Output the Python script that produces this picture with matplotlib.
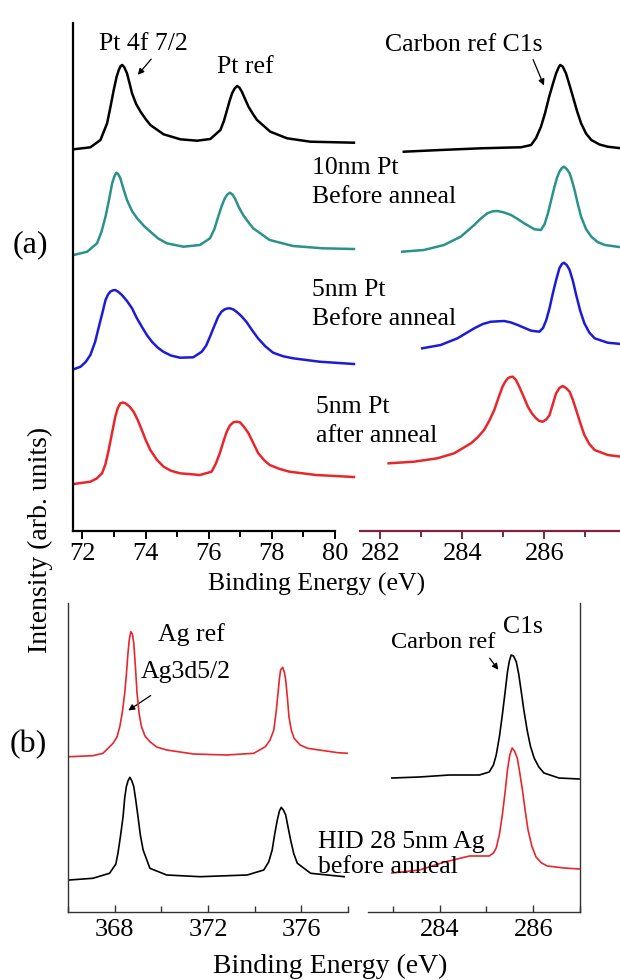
import numpy as np
import matplotlib
matplotlib.use('Agg')
from matplotlib import pyplot as plt
from matplotlib.ticker import MultipleLocator

plt.rcParams['font.family'] = ['Liberation Serif', 'DejaVu Serif']

# ---------- data: panel (a), Pt 4f region ----------
pt_black_x = [71.72, 72.25, 72.57, 72.78, 72.88, 72.99, 73.08, 73.15, 73.21, 73.26, 73.32, 73.41, 73.49, 73.57,
              73.70, 73.84, 74.00, 74.15, 74.57, 75.10, 75.63, 76.05, 76.37, 76.48, 76.58, 76.66, 76.74, 76.82,
              76.90, 76.97, 77.05, 77.15, 77.26, 77.40, 77.53, 77.95, 78.48, 79.22, 80.60]
pt_black_y = [1.7, 3.7, 11, 27.7, 43, 61, 74, 81, 85, 86, 84, 77.7, 68, 57.7,
              47, 39.3, 32, 26, 16.7, 11.7, 10.3, 12, 21, 30, 41, 50, 57.7, 62.5,
              65, 63.5, 59.3, 52, 44.3, 37, 31, 19.3, 12.7, 9.3, 8.3]

pt_teal_x = [71.72, 72.15, 72.46, 72.60, 72.73, 72.84, 72.94, 73.01, 73.07, 73.13, 73.20, 73.30, 73.41, 73.57,
             73.73, 73.95, 74.15, 74.40, 74.67, 75.20, 75.72, 76.04, 76.18, 76.30, 76.41, 76.51, 76.59, 76.67,
             76.75, 76.83, 76.95, 77.09, 77.25, 77.41, 77.93, 78.67, 79.61, 80.60]
pt_teal_y = [1, 4.3, 12.7, 24, 39.3, 56, 72.7, 79.5, 83.3, 82, 77.7, 67, 56, 45,
             37.7, 30, 24.3, 17.5, 12.7, 9.3, 11, 17.7, 27, 39.3, 50, 57.7, 61.5, 63.3,
             61.5, 57.7, 49, 41, 34, 27.7, 16, 10, 7.7, 7]

pt_blue_x = [71.72, 71.94, 72.10, 72.25, 72.40, 72.52, 72.63, 72.73, 72.81, 72.88, 72.96, 73.04, 73.14, 73.25,
             73.41, 73.57, 73.72, 73.88, 74.04, 74.20, 74.38, 74.56, 74.80, 75.09, 75.51, 75.78, 75.92, 76.04,
             76.17, 76.30, 76.41, 76.51, 76.59, 76.67, 76.78, 76.88, 77.03, 77.19, 77.37, 77.56, 77.80, 78.04,
             78.35, 78.67, 79.51, 80.60]
pt_blue_y = [1.7, 4.3, 9, 16, 29, 44.3, 58, 71, 76.5, 79.3, 80.6, 81, 79, 76,
             70, 62.7, 53, 44.3, 36, 29.3, 23.5, 19.3, 15.5, 13.3, 13.7, 19.3, 25.5, 34.3,
             44.5, 54.3, 59.5, 61.7, 62.5, 62.7, 61.5, 59.3, 55, 49.3, 41, 32.7, 24.5, 18.3,
             14.8, 12.7, 9.3, 7]

pt_red_x = [71.72, 72.25, 72.45, 72.62, 72.73, 72.83, 72.93, 73.04, 73.12, 73.20, 73.28, 73.36, 73.49, 73.62,
            73.75, 73.88, 74.01, 74.15, 74.35, 74.57, 74.80, 75.09, 75.72, 76.09, 76.22, 76.35, 76.46, 76.57,
            76.67, 76.78, 76.88, 76.99, 77.12, 77.26, 77.41, 77.57, 77.75, 77.93, 78.25, 78.56, 79.40, 80.60]
pt_red_y = [2, 4.3, 7.5, 12.7, 22, 36, 52, 69.3, 78, 82.7, 83.5, 82.7, 79.5, 74.3,
            66, 56, 45.5, 36, 26.5, 19.3, 15.3, 12.7, 11, 14.3, 22, 32.7, 44, 54.3,
            60.5, 63.7, 64.3, 63.7, 59, 52.7, 43, 32.7, 26, 21, 17, 14.3, 11, 9]

# ---------- data: panel (a), C 1s region ----------
c_black_x = [282.57, 283.47, 284.45, 285.20, 285.43, 285.68, 285.80, 285.92, 286.02, 286.12, 286.21, 286.29,
             286.35, 286.39, 286.45, 286.53, 286.61, 286.70, 286.80, 286.90, 287.02, 287.15, 287.35, 287.55, 287.88]
c_black_y = [-0.7, 1, 2.7, 3.5, 3.7, 6, 13, 24.3, 38, 54.3, 67, 77.7,
             83.5, 86, 84.5, 77.7, 67, 54.3, 40, 27.7, 17.5, 11, 6.5, 4.3, 2.7]

c_teal_x = [282.53, 283.06, 283.55, 283.96, 284.29, 284.45, 284.61, 284.74, 284.86, 285.02, 285.19, 285.35,
            285.51, 285.76, 285.92, 286.01, 286.09, 286.17, 286.25, 286.31, 286.37, 286.43, 286.48, 286.55,
            286.62, 286.68, 286.74, 286.82, 286.90, 287.02, 287.15, 287.30, 287.48, 287.88]
c_teal_y = [4.3, 6, 11, 19.3, 31, 37.5, 42.7, 44.7, 45, 43.5, 41, 37,
            32.7, 26.7, 26, 32, 42.7, 56, 69.3, 78, 84.3, 88, 89.3, 87,
            82.7, 75, 66, 52, 39.3, 27, 19.3, 14, 11, 8.7]

c_blue_x = [283.02, 283.47, 283.88, 284.29, 284.50, 284.70, 285.02, 285.19, 285.35, 285.68, 285.88, 285.97,
            286.05, 286.13, 286.21, 286.29, 286.37, 286.43, 286.48, 286.55, 286.62, 286.70, 286.78, 286.88,
            286.98, 287.10, 287.23, 287.55, 287.88]
c_blue_y = [22.7, 26, 32.7, 42.7, 47, 49.3, 50, 48.5, 46, 40.3, 39.3, 43,
            51, 63, 77.7, 91, 102.7, 107, 108.3, 106, 101, 90, 76, 60,
            47.7, 38.5, 32.7, 28.3, 27]

c_red_x = [282.20, 282.82, 283.39, 283.80, 284.21, 284.37, 284.53, 284.66, 284.78, 284.88, 284.98, 285.05,
           285.11, 285.17, 285.23, 285.31, 285.39, 285.50, 285.60, 285.70, 285.80, 285.88, 285.96, 286.05,
           286.13, 286.21, 286.29, 286.37, 286.45, 286.53, 286.62, 286.70, 286.78, 286.88, 286.98, 287.10,
           287.23, 287.55, 287.88]
c_red_y = [22.7, 24.3, 27.7, 32.7, 42.7, 48.5, 56, 65.5, 76, 88, 99.3, 104.5,
           107.7, 109, 109.3, 106, 99.3, 89, 79.3, 72.5, 67.7, 65, 64.3, 66.5,
           71, 82, 92.7, 98, 100, 98, 94.3, 86, 76, 63, 51, 42,
           36, 31, 29.3]

# ---------- data: panel (b), Ag 3d region ----------
ag_red_x = [366.06, 367.06, 367.50, 367.93, 368.10, 368.22, 368.33, 368.43, 368.50, 368.57, 368.63, 368.69,
            368.76, 368.82, 368.89, 368.96, 369.05, 369.15, 369.30, 369.51, 369.80, 370.23, 371.38, 372.81,
            373.96, 374.46, 374.66, 374.82, 374.92, 375.00, 375.06, 375.11, 375.20, 375.27, 375.33, 375.40,
            375.47, 375.57, 375.69, 375.95, 376.27, 377.56, 378.00]
ag_red_y = [0.3, 1.3, 3.7, 13.7, 20, 30.3, 45, 63.7, 82, 103.7, 118, 125.3,
            123, 113.7, 90, 63.7, 43, 30.3, 21, 15.3, 10, 7, 3, 2,
            3.7, 10.3, 17, 27, 45, 63.7, 78, 87, 89.7, 85, 77, 60,
            40.3, 27, 18.7, 12, 8.7, 4.3, 3.7]

ag_black_x = [366.06, 367.06, 367.78, 368.05, 368.14, 368.25, 368.36, 368.43, 368.50, 368.57, 368.65, 368.73,
              368.82, 368.91, 369.00, 369.10, 369.22, 369.51, 370.23, 371.66, 373.68, 374.39, 374.60, 374.75,
              374.86, 374.97, 375.06, 375.14, 375.23, 375.33, 375.43, 375.54, 375.68, 375.83, 376.40, 377.84]
ag_black_y = [2, 3.7, 8.7, 18, 28.7, 46, 65.3, 84, 95.3, 101, 104.7, 101.5,
              95.3, 81, 65.3, 47, 32, 13.7, 7, 5.3, 7, 12, 20, 32,
              48, 62, 71, 74.7, 72, 67, 55, 42, 28, 18.7, 8.7, 5.3]

# ---------- data: panel (b), C 1s region ----------
agc_black_x = [282.98, 283.57, 284.21, 284.85, 285.06, 285.15, 285.21, 285.28, 285.34, 285.40, 285.45, 285.49,
               285.53, 285.58, 285.64, 285.69, 285.74, 285.80, 285.87, 285.94, 286.02, 286.12, 286.23, 286.55, 286.98]
agc_black_y = [4, 5, 7, 7, 10, 17, 27, 46, 67, 90, 110, 121,
               127, 126, 120, 108, 92, 72, 52, 36, 24, 15, 9, 4, 3]

agc_red_x = [282.98, 283.57, 284.11, 284.64, 285.06, 285.15, 285.21, 285.28, 285.34, 285.40, 285.45, 285.50,
             285.55, 285.60, 285.66, 285.71, 285.77, 285.83, 285.89, 285.97, 286.06, 286.18, 286.30, 286.66, 286.98]
agc_red_y = [9, 12, 20, 26, 26, 29, 34, 48, 67, 90, 112, 127,
             134, 131, 124, 110, 92, 71, 52, 36, 25, 19, 16, 14, 13]

# vertical offsets of the stacked spectra
offsets_a = [380, 275, 160, 45]
offsets_b = [155, 30]
offsets_bc = [130, 30]
colors_a = ['#000000', '#2a928c', '#1c1cd8', '#e8262c']
colors_b = ['#e8262c', '#000000']
colors_bc = ['#000000', '#e8262c']

# ---------- figure ----------
W, H = 620, 980
fig = plt.figure(figsize=(W / 100, H / 100), dpi=100)


def rect(x0, y0, x1, y1):
    return [x0 / W, 1 - y1 / H, (x1 - x0) / W, (y1 - y0) / H]


def fpos(x, y):
    return (x / W, 1 - y / H)


ax_a1 = fig.add_axes(rect(73, 23, 335, 531))
ax_a2 = fig.add_axes(rect(360, 23, 620, 531))
ax_b1 = fig.add_axes(rect(68, 603, 348, 912))
ax_b2 = fig.add_axes(rect(368, 603, 580, 912))

pt_curves = [(pt_black_x, pt_black_y), (pt_teal_x, pt_teal_y), (pt_blue_x, pt_blue_y), (pt_red_x, pt_red_y)]
c_curves = [(c_black_x, c_black_y), (c_teal_x, c_teal_y), (c_blue_x, c_blue_y), (c_red_x, c_red_y)]
for (x, y), off, col in zip(pt_curves, offsets_a, colors_a):
    ax_a1.plot(x, np.array(y) + off, color=col, lw=1.8, clip_on=False, solid_joinstyle='round')
for (x, y), off, col in zip(c_curves, offsets_a, colors_a):
    ax_a2.plot(x, np.array(y) + off, color=col, lw=1.8, solid_joinstyle='round')

ag_curves = [(ag_red_x, ag_red_y), (ag_black_x, ag_black_y)]
agc_curves = [(agc_black_x, agc_black_y), (agc_red_x, agc_red_y)]
for (x, y), off, col in zip(ag_curves, offsets_b, colors_b):
    ax_b1.plot(x, np.array(y) + off, color=col, lw=1.2, solid_joinstyle='round')
for (x, y), off, col in zip(agc_curves, offsets_bc, colors_bc):
    ax_b2.plot(x, np.array(y) + off, color=col, lw=1.2, solid_joinstyle='round')

ax_a1.set_xlim(71.7, 80)
ax_a2.set_xlim(281.5, 287.85)
ax_b1.set_xlim(366, 378)
ax_b2.set_xlim(282.47, 287)
for ax in (ax_a1, ax_a2):
    ax.set_ylim(0, 508)
for ax in (ax_b1, ax_b2):
    ax.set_ylim(0, 309)

for ax in (ax_a1, ax_a2, ax_b1, ax_b2):
    ax.set_facecolor('none')
    ax.set_yticks([])
    for s in ('top', 'right', 'left'):
        ax.spines[s].set_visible(False)

ax_a1.spines['left'].set_visible(True)
ax_b1.spines['left'].set_visible(True)
ax_b2.spines['right'].set_visible(True)
for s in ('left', 'bottom'):
    ax_a1.spines[s].set_linewidth(1.6)
ax_a2.spines['bottom'].set_linewidth(1.6)
ax_a2.spines['bottom'].set_color('#7d2240')
for ax in (ax_b1, ax_b2):
    for s in ax.spines.values():
        s.set_linewidth(1.0)
        s.set_color('#333333')

ax_a1.xaxis.set_major_locator(MultipleLocator(2))
ax_a1.xaxis.set_minor_locator(MultipleLocator(1))
ax_a2.xaxis.set_major_locator(MultipleLocator(2))
ax_a2.xaxis.set_minor_locator(MultipleLocator(1))
ax_b1.xaxis.set_major_locator(MultipleLocator(4))
ax_b1.xaxis.set_minor_locator(MultipleLocator(2))
ax_b2.xaxis.set_major_locator(MultipleLocator(2))
ax_b2.xaxis.set_minor_locator(MultipleLocator(1))

ax_a1.tick_params(axis='x', which='both', direction='out', width=1.4, labelsize=19, pad=3)
ax_a1.tick_params(axis='x', which='major', length=6)
ax_a1.tick_params(axis='x', which='minor', length=4)
ax_a2.tick_params(axis='x', which='both', direction='out', width=1.4, labelsize=19, pad=3, color='#7d2240')
ax_a2.tick_params(axis='x', which='major', length=6)
ax_a2.tick_params(axis='x', which='minor', length=4)
for ax in (ax_b1, ax_b2):
    ax.tick_params(axis='x', which='both', direction='in', width=1.0, labelsize=19, pad=5, color='#333333')
    ax.tick_params(axis='x', which='major', length=5)
    ax.tick_params(axis='x', which='minor', length=4)

# axis labels
fig.text(*fpos(317, 584), 'Binding Energy (eV)', fontsize=18.5, ha='center', va='center')
fig.text(*fpos(330, 966), 'Binding Energy (eV)', fontsize=20, ha='center', va='center')
fig.text(*fpos(40, 540), 'Intensity (arb. units)', fontsize=20, ha='center', va='center', rotation=90)
fig.text(*fpos(30, 245), '(a)', fontsize=23, ha='center', va='center')
fig.text(*fpos(28, 745), '(b)', fontsize=23, ha='center', va='center')

# annotations panel (a)
fs = 18.5
fig.text(*fpos(143, 44), 'Pt 4f 7/2', fontsize=fs, ha='center', va='center')
fig.text(*fpos(245, 67), 'Pt ref', fontsize=fs, ha='center', va='center')
fig.text(*fpos(464, 45), 'Carbon ref C1s', fontsize=fs, ha='center', va='center')
fig.text(*fpos(312, 168), '10nm Pt', fontsize=fs, ha='left', va='center')
fig.text(*fpos(312, 197), 'Before anneal', fontsize=fs, ha='left', va='center')
fig.text(*fpos(312, 290), '5nm Pt', fontsize=fs, ha='left', va='center')
fig.text(*fpos(312, 319), 'Before anneal', fontsize=fs, ha='left', va='center')
fig.text(*fpos(316, 407), '5nm Pt', fontsize=fs, ha='left', va='center')
fig.text(*fpos(316, 436), 'after anneal', fontsize=fs, ha='left', va='center')

# annotations panel (b)
fig.text(*fpos(191, 635), 'Ag ref', fontsize=fs, ha='center', va='center')
fig.text(*fpos(186, 672), 'Ag3d5/2', fontsize=fs, ha='center', va='center')
fig.text(*fpos(443, 642), 'Carbon ref', fontsize=17.5, ha='center', va='center')
fig.text(*fpos(523, 627), 'C1s', fontsize=fs, ha='center', va='center')
fig.text(*fpos(318, 842), 'HID 28 5nm Ag', fontsize=fs, ha='left', va='center')
fig.text(*fpos(318, 867), 'before anneal', fontsize=fs, ha='left', va='center')

arrows = [((153, 57), (136, 77)), ((532, 57), (545, 88)), ((153, 694), (126, 712)), ((488, 656), (500, 672))]
for start, end in arrows:
    ax_a1.annotate('', xy=fpos(*end), xytext=fpos(*start), xycoords='figure fraction',
                   textcoords='figure fraction',
                   arrowprops=dict(arrowstyle='-|>', lw=0.9, color='k', mutation_scale=9))

plt.savefig('out.png', dpi=100)
